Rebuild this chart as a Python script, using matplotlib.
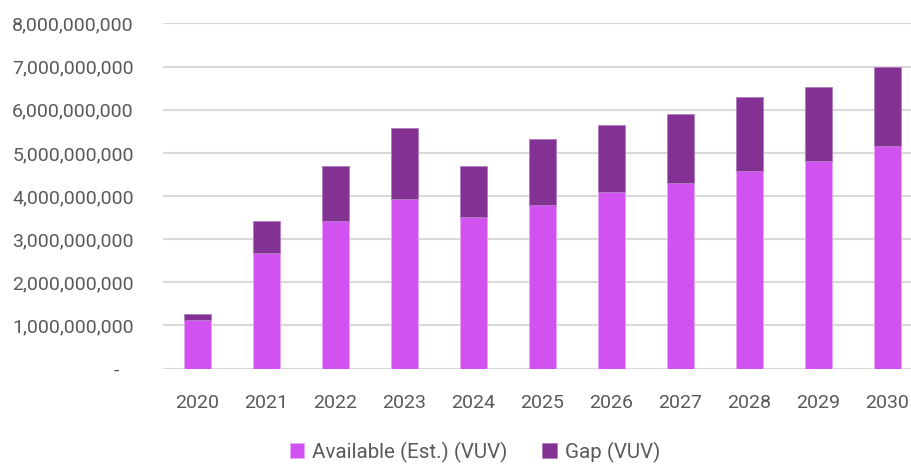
import numpy as np
import matplotlib
matplotlib.use("Agg")
import matplotlib.pyplot as plt
from matplotlib.ticker import FuncFormatter

years = ["2020", "2021", "2022", "2023", "2024", "2025",
         "2026", "2027", "2028", "2029", "2030"]
available = [1.13e9, 2.68e9, 3.42e9, 3.93e9, 3.52e9, 3.79e9,
             4.09e9, 4.30e9, 4.59e9, 4.81e9, 5.17e9]
total = [1.26e9, 3.43e9, 4.70e9, 5.58e9, 4.70e9, 5.33e9,
         5.64e9, 5.90e9, 6.29e9, 6.53e9, 7.00e9]
gap = [t - a for t, a in zip(total, available)]

c_avail = '#D152F0'
c_gap = '#833293'
c_text = '#595959'
c_grid = '#D9D9D9'

plt.rcParams['font.family'] = ['Roboto', 'DejaVu Sans']

fig = plt.figure(figsize=(9.11, 4.68), dpi=100)
W, H = 911, 468
ax = fig.add_axes([163 / W, (H - 368.5) / H, (922 - 163) / W, 345 / H])

x = np.arange(len(years))
ax.bar(x, available, width=0.40, color=c_avail, edgecolor='#E9A6F7',
       linewidth=0.6, label='Available (Est.) (VUV)', zorder=3)
ax.bar(x, gap, width=0.40, bottom=available, color=c_gap, edgecolor='#B07CC0',
       linewidth=0.6, label='Gap (VUV)', zorder=3)

ax.set_xlim(-0.5, 10.5)
ax.set_ylim(0, 8e9)
ax.set_yticks(np.arange(0, 8.01e9, 1e9))
ax.yaxis.set_major_formatter(FuncFormatter(
    lambda v, p: '-   ' if v == 0 else f'{v:,.0f}'))
ax.set_xticks(x)
ax.set_xticklabels(years)

ax.grid(axis='y', color=c_grid, linewidth=1.5, zorder=0)
ax.set_axisbelow(True)
for s in ax.spines.values():
    s.set_visible(False)
ax.tick_params(axis='both', length=0, labelsize=14, labelcolor=c_text)
ax.tick_params(axis='y', pad=21)
ax.tick_params(axis='x', pad=18)

fig.legend(loc='center', bbox_to_anchor=(475 / W, 1 - 452 / H), ncol=2,
           frameon=False, fontsize=14.8, labelcolor=c_text,
           handlelength=0.7, handleheight=0.7, handletextpad=0.4,
           columnspacing=1.7)

fig.savefig('out.png', dpi=100)
